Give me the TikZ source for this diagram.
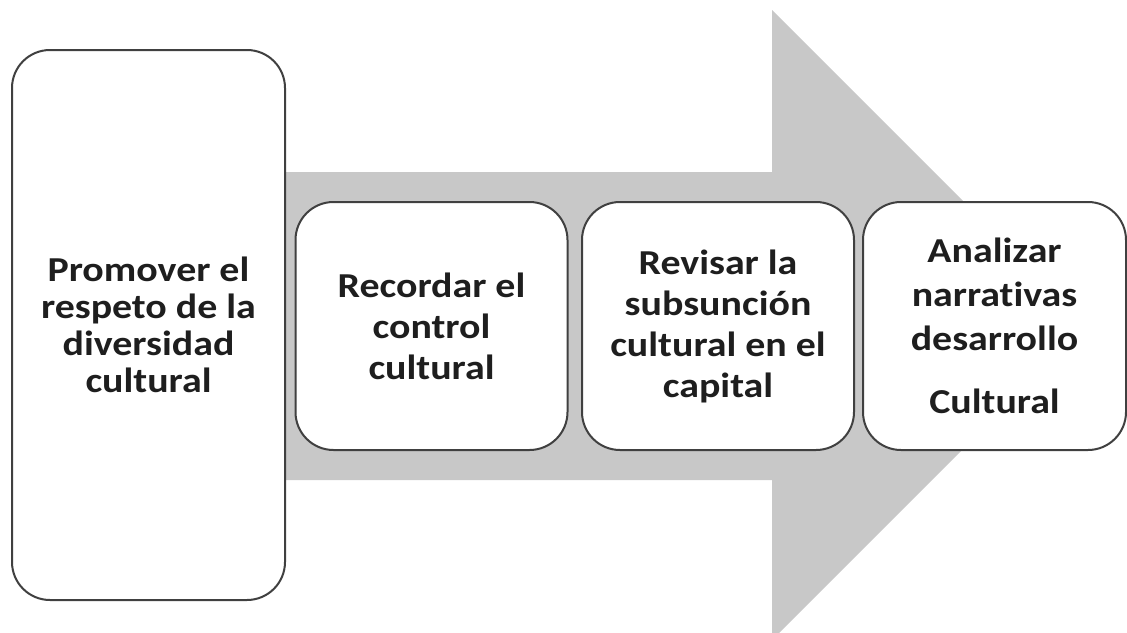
\documentclass[tikz,border=0pt]{standalone}
\usepackage{fontspec}
\setmainfont[FakeStretch=1.14, Ligatures=NoCommon]{Carlito}
\usetikzlibrary{positioning}
\definecolor{arrowgray}{RGB}{200,200,200}
\definecolor{edgegray}{RGB}{64,64,64}
\definecolor{textgray}{RGB}{30,30,30}

\begin{document}
\begin{tikzpicture}[
    x=1pt, y=-1pt,
    stepbox/.style={rectangle, rounded corners=38pt, draw=edgegray, line width=2pt, fill=white, text=textgray, minimum width=272pt, minimum height=248pt, align=center, font=\bfseries\fontsize{35}{41}\selectfont},
    bigbox/.style={stepbox, minimum width=273pt, minimum height=550pt, font=\bfseries\fontsize{35}{37}\selectfont}
]
\useasboundingbox (0,0) rectangle (1127,632);
\clip (0,0) rectangle (1127,632);

% Big arrow behind the steps
\fill[arrowgray] (200,172) -- (772,172) -- (772,10) -- (1087,325) -- (772,640) -- (772,480) -- (200,480) -- cycle;

% Steps from left to right
\node[bigbox] (respeto) at (148.5,325) {Promover el\\respeto de la\\diversidad\\cultural};
\node[stepbox] (control) at (431.5,326) {Recordar el\\control\\cultural};
\node[stepbox] (capital) at (718,326) {Revisar la\\subsunción\\cultural en el\\capital};
\node[stepbox, minimum width=263pt, font=\bfseries\fontsize{35}{44}\selectfont] (narrativa) at (994.5,326) {Analizar\\narrativas\\desarrollo\\[19pt]Cultural};

\end{tikzpicture}
\end{document}
